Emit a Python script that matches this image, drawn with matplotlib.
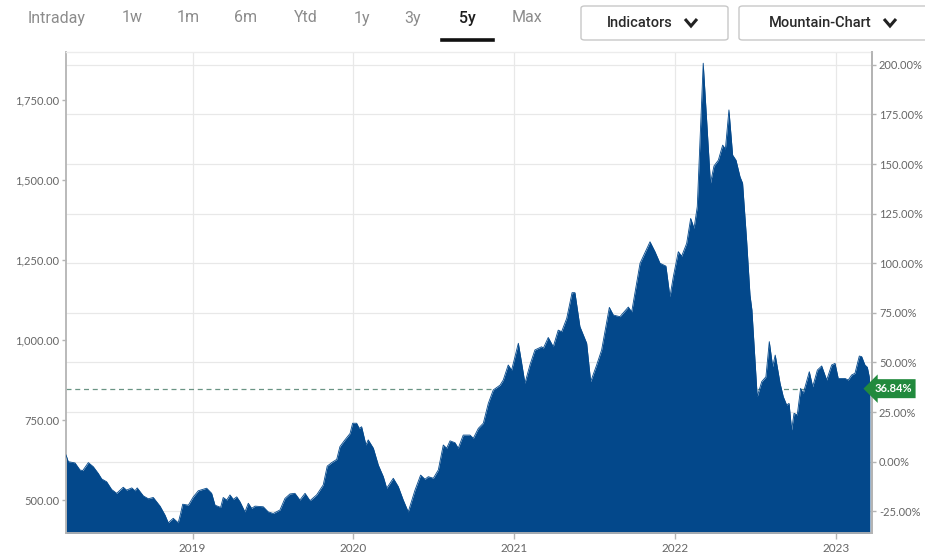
import matplotlib
matplotlib.use("Agg")
import matplotlib.pyplot as plt
from matplotlib.lines import Line2D
from matplotlib.patches import FancyBboxPatch

# ---------------- data ----------------
dates = [
    2018.212, 2018.226, 2018.268, 2018.299, 2018.316, 2018.351, 2018.382, 2018.413,
    2018.434, 2018.465, 2018.496, 2018.527, 2018.568, 2018.589, 2018.621, 2018.641,
    2018.655, 2018.693, 2018.724, 2018.755, 2018.797, 2018.828, 2018.848, 2018.879,
    2018.910, 2018.925, 2018.938, 2018.973, 2019.004, 2019.035, 2019.087, 2019.118,
    2019.139, 2019.174, 2019.190, 2019.212, 2019.232, 2019.253, 2019.274, 2019.294,
    2019.325, 2019.346, 2019.367, 2019.388, 2019.439, 2019.470, 2019.501, 2019.543,
    2019.574, 2019.605, 2019.636, 2019.667, 2019.699, 2019.730, 2019.771, 2019.812,
    2019.837, 2019.865, 2019.896, 2019.916, 2019.947, 2019.979, 2019.995, 2020.020,
    2020.036, 2020.051, 2020.078, 2020.092, 2020.124, 2020.155, 2020.186, 2020.207,
    2020.248, 2020.279, 2020.310, 2020.341, 2020.383, 2020.418, 2020.445, 2020.466,
    2020.497, 2020.528, 2020.559, 2020.580, 2020.601, 2020.632, 2020.652, 2020.683,
    2020.725, 2020.746, 2020.777, 2020.808, 2020.839, 2020.870, 2020.912, 2020.932,
    2020.963, 2020.984, 2021.026, 2021.047, 2021.067, 2021.098, 2021.129, 2021.171,
    2021.181, 2021.212, 2021.243, 2021.274, 2021.295, 2021.327, 2021.360, 2021.378,
    2021.409, 2021.451, 2021.476, 2021.513, 2021.544, 2021.592, 2021.617, 2021.658,
    2021.710, 2021.731, 2021.783, 2021.845, 2021.876, 2021.907, 2021.944, 2021.969,
    2021.990, 2022.021, 2022.042, 2022.073, 2022.098, 2022.119, 2022.139, 2022.176,
    2022.201, 2022.221, 2022.243, 2022.270, 2022.297, 2022.314, 2022.336, 2022.359,
    2022.380, 2022.405, 2022.421, 2022.446, 2022.467, 2022.479, 2022.512, 2022.540,
    2022.566, 2022.587, 2022.608, 2022.624, 2022.654, 2022.674, 2022.695, 2022.710,
    2022.726, 2022.741, 2022.761, 2022.782, 2022.798, 2022.836, 2022.857, 2022.886,
    2022.913, 2022.944, 2022.975, 2022.996, 2023.016, 2023.058, 2023.078, 2023.100,
    2023.120, 2023.147, 2023.162, 2023.182, 2023.197, 2023.209, 2023.213,
]
prices = [
    641, 620, 616, 594, 592, 617, 604, 583,
    566, 557, 533, 521, 540, 531, 538, 529,
    538, 513, 504, 508, 481, 453, 429, 443,
    429, 458, 487, 484, 510, 529, 537, 521,
    484, 477, 508, 500, 516, 502, 510, 495,
    463, 490, 474, 481, 479, 463, 458, 469,
    505, 519, 521, 500, 521, 498, 516, 547,
    606, 617, 627, 667, 688, 708, 740, 740,
    724, 729, 672, 688, 662, 609, 573, 537,
    568, 542, 500, 463, 531, 578, 565, 573,
    568, 594, 672, 662, 685, 679, 662, 703,
    703, 693, 724, 740, 802, 844, 859, 875,
    922, 906, 990, 927, 865, 922, 969, 979,
    974, 1008, 979, 1031, 1026, 1068, 1148, 1148,
    1042, 990, 870, 922, 969, 1102, 1078, 1073,
    1103, 1088, 1240, 1307, 1276, 1240, 1231, 1135,
    1198, 1276, 1262, 1302, 1380, 1349, 1417, 1865,
    1656, 1490, 1544, 1562, 1609, 1597, 1719, 1578,
    1562, 1510, 1490, 1312, 1141, 1094, 823, 870,
    885, 995, 917, 953, 865, 823, 797, 802,
    719, 771, 766, 849, 833, 901, 854, 906,
    919, 875, 922, 927, 880, 880, 875, 891,
    896, 950, 948, 922, 915, 885, 848,
]
base_price = 620.0
last_change_label = "36.84%"
price_ticks = [500, 750, 1000, 1250, 1500, 1750]
pct_ticks = [-25, 0, 25, 50, 75, 100, 125, 150, 175, 200]
year_ticks = [2019, 2020, 2021, 2022, 2023]
tabs = ["Intraday", "1w", "1m", "6m", "Ytd", "1y", "3y", "5y", "Max"]
active_tab = "5y"
buttons = ["Indicators", "Mountain-Chart"]

# ---------------- styling ----------------
FILL = "#03488b"
GRID = "#e8e8e8"
AXIS = "#b4b4b4"
TICKC = "#666666"
W, H = 925, 558

plt.rcParams["font.family"] = ["Lato", "DejaVu Sans"]

fig = plt.figure(figsize=(W / 100, H / 100), dpi=100)
fig.patch.set_facecolor("white")

def fx(px):
    return px / W

def fy(py):
    return 1 - py / H

ax = fig.add_axes([fx(66), fy(533), fx(872) - fx(66), fy(52) - fy(533)])
ymin, ymax = 397, 1900
ax.set_xlim(2018.212, 2023.226)
ax.set_ylim(ymin, ymax)

# grid (behind fill)
for p in pct_ticks:
    ax.axhline(base_price * (1 + p / 100), color=GRID, lw=0.9, zorder=0)
for yv in year_ticks:
    ax.axvline(yv, color=GRID, lw=0.9, zorder=0)

# dashed last-price line
ax.axhline(prices[-1], color="#6a9484", lw=0.9, ls=(0, (4, 3)), zorder=1)

ax.fill_between(dates, prices, ymin - 50, color=FILL, lw=0, zorder=2)
ax.plot(dates, prices, color=FILL, lw=0.6, zorder=3)

# axes styling
for s in ["left", "right", "bottom"]:
    ax.spines[s].set_color(AXIS)
    ax.spines[s].set_linewidth(1.3)
ax.spines["top"].set_color("#ececec")
ax.spines["top"].set_linewidth(1.0)
ax.set_yticks(price_ticks)
ax.set_yticklabels([f"{v:,.2f}" for v in price_ticks])
ax.tick_params(axis="y", colors=AXIS, labelcolor=TICKC, labelsize=8, length=3, width=1, pad=2)
ax.set_xticks(year_ticks)
ax.set_xticklabels([str(y) for y in year_ticks])
ax.tick_params(axis="x", colors=AXIS, labelcolor=TICKC, labelsize=8.5, length=4, width=1, pad=3)

ax2 = ax.twinx()
ax2.set_ylim((ymin / base_price - 1) * 100, (ymax / base_price - 1) * 100)
ax2.set_yticks(pct_ticks)
ax2.set_yticklabels([f"{p:.2f}%" for p in pct_ticks])
ax2.tick_params(axis="y", colors=AXIS, labelcolor=TICKC, labelsize=8, length=3, width=1, pad=2)
for s in ["left", "top", "bottom"]:
    ax2.spines[s].set_visible(False)
ax2.spines["right"].set_color(AXIS)
ax2.spines["right"].set_linewidth(1.3)

# last value badge
ax2.annotate(last_change_label, xy=(1.0, prices[-1]), xycoords=ax.get_yaxis_transform(),
             xytext=(1.5, 0), textcoords="offset points",
             ha="left", va="center", color="white", fontsize=8, fontweight="bold",
             zorder=10, annotation_clip=False,
             bbox=dict(boxstyle="larrow,pad=0.36", fc="#218a3d", ec="none"))

# ---------------- top toolbar ----------------
tab_x = [57, 132, 188, 246, 306, 362, 413, 467, 527]
for name, xc in zip(tabs, tab_x):
    active = name == active_tab
    fig.text(fx(xc), fy(18), name, ha="center", va="center",
             fontsize=11.5, family=["Roboto", "DejaVu Sans"],
             color="#1e1e1e" if active else "#8c8c8c",
             fontweight="medium" if active else "normal")
    if active:
        fig.add_artist(Line2D([fx(442), fx(493)], [fy(40), fy(40)], color="#111111",
                              lw=2.6, transform=fig.transFigure))

btn_boxes = [(581, 728), (739, 935)]
btn_text_x = [640, 820]
chev_x = [691, 890]
for name, (x0, x1), tx, cx in zip(buttons, btn_boxes, btn_text_x, chev_x):
    fig.add_artist(FancyBboxPatch((fx(x0), fy(40)), fx(x1) - fx(x0), fy(6) - fy(40),
                                  boxstyle="round,pad=0,rounding_size=0.004",
                                  fc="white", ec="#c8c8c8", lw=1.0,
                                  transform=fig.transFigure))
    fig.text(fx(tx), fy(23), name, ha="center", va="center", fontsize=10.5,
             family=["Roboto", "DejaVu Sans"], color="#2a2a2a", fontweight="medium")
    fig.add_artist(Line2D([fx(cx - 6), fx(cx), fx(cx + 6)], [fy(19), fy(26), fy(19)],
                          color="#222222", lw=2.2, transform=fig.transFigure,
                          solid_capstyle="butt", solid_joinstyle="miter"))

fig.savefig("out.png", dpi=100, facecolor="white")
